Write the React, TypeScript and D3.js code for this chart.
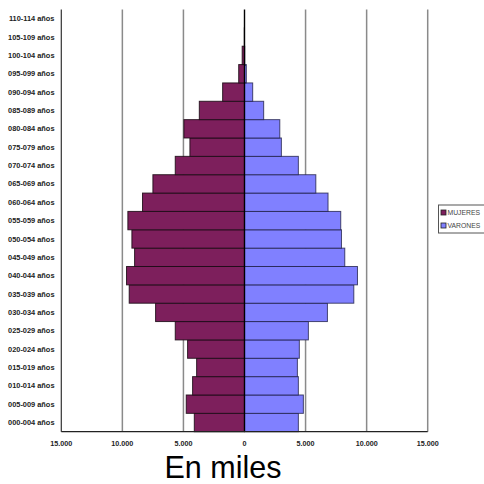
import React from "react";
import * as d3 from "d3";

// Age groups, youngest first
const ageGroups = [
  "000-004 años", "005-009 años", "010-014 años", "015-019 años", "020-024 años",
  "025-029 años", "030-034 años", "035-039 años", "040-044 años", "045-049 años",
  "050-054 años", "055-059 años", "060-064 años", "065-069 años", "070-074 años",
  "075-079 años", "080-084 años", "085-089 años", "090-094 años", "095-099 años",
  "100-104 años", "105-109 años", "110-114 años",
];

// Population in thousands
const mujeres = [
  4110, 4770, 4250, 3920, 4660, 5670, 7280, 9440, 9660, 9000,
  9220, 9550, 8350, 7500, 5670, 4470, 4960, 3700, 1790, 475,
  190, 15, 0,
];
const varones = [
  4410, 4820, 4410, 4330, 4490, 5230, 6790, 8950, 9250, 8210,
  7940, 7880, 6840, 5840, 4410, 3020, 2890, 1570, 670, 150,
  20, 0, 0,
];

const xTicks = [-15000, -10000, -5000, 0, 5000, 10000, 15000];
const legendItems = ["MUJERES", "VARONES"];

const COLOR_M = "#7d1f5c";
const COLOR_V = "#8080ff";

const fmt = (v: number) =>
  d3.format(",")(Math.abs(v)).replace(/,/g, ".");

export default function App() {
  const W = 484;
  const H = 484;
  const x = d3.scaleLinear().domain([-15000, 15000]).range([61.3, 427.7]);
  const y = d3
    .scaleBand<string>()
    .domain([...ageGroups].reverse())
    .range([9.5, 431.7])
    .padding(0);
  const bw = y.bandwidth();
  const top = y.range()[0];
  const bottom = y.range()[1];
  const labelFont = "'Liberation Sans', Arial, sans-serif";

  return (
    <svg
      width={W}
      height={H}
      style={{ position: "absolute", left: 0, top: 0, background: "#fff" }}
    >
      {/* vertical gridlines */}
      {xTicks
        .filter((t) => t !== 0 && t !== -15000)
        .map((t) => (
          <line
            key={"g" + t}
            x1={x(t)}
            x2={x(t)}
            y1={top}
            y2={bottom}
            stroke="#8a8a8a"
            strokeWidth={1.5}
          />
        ))}
      <line x1={x(-15000)} x2={x(-15000)} y1={top} y2={bottom} stroke="#333" strokeWidth={1.2} />

      {/* bars */}
      {ageGroups.map((g, i) => (
        <g key={g}>
          {mujeres[i] > 0 && (
            <rect
              x={x(-mujeres[i])}
              y={y(g)}
              width={x(0) - x(-mujeres[i])}
              height={bw}
              fill={COLOR_M}
              stroke="#1a0a14"
              strokeOpacity={0.85}
              strokeWidth={1}
            />
          )}
          {varones[i] > 0 && (
            <rect
              x={x(0)}
              y={y(g)}
              width={x(varones[i]) - x(0)}
              height={bw}
              fill={COLOR_V}
              stroke="#1a1a40"
              strokeOpacity={0.75}
              strokeWidth={1}
            />
          )}
        </g>
      ))}

      {/* zero line and bottom axis */}
      <line x1={x(0)} x2={x(0)} y1={top} y2={bottom} stroke="#000" strokeWidth={1.4} />
      <line x1={x(-15000)} x2={x(15000)} y1={bottom} y2={bottom} stroke="#222" strokeWidth={1.2} />

      {/* category labels */}
      {ageGroups.map((g) => (
        <text
          key={"l" + g}
          x={54.5}
          y={(y(g) as number) + bw / 2}
          dy="0.35em"
          textAnchor="end"
          fontFamily={labelFont}
          fontWeight="bold"
          fontSize={7.4}
          fill="#222"
        >
          {g}
        </text>
      ))}

      {/* tick labels */}
      {xTicks.map((t) => (
        <text
          key={"t" + t}
          x={x(t)}
          y={445.5}
          textAnchor="middle"
          fontFamily={labelFont}
          fontWeight="bold"
          fontSize={7.2}
          fill="#222"
        >
          {fmt(t)}
        </text>
      ))}

      {/* legend */}
      <rect x={438.5} y={205} width={50} height={28} fill="#fff" stroke="#555" strokeWidth={1} />
      {legendItems.map((name, i) => (
        <g key={name} transform={`translate(441, ${210 + i * 13})`}>
          <rect
            width={5}
            height={5}
            fill={i === 0 ? COLOR_M : COLOR_V}
            stroke="#222"
            strokeWidth={0.8}
          />
          <text
            x={6.5}
            y={2.6}
            dy="0.35em"
            fontFamily={labelFont}
            fontSize={6.8}
            fill="#444"
          >
            {name}
          </text>
        </g>
      ))}

      {/* unit caption */}
      <text
        x={223}
        y={477.5}
        textAnchor="middle"
        fontFamily={labelFont}
        fontSize={30.5}
        fill="#000"
      >
        En miles
      </text>
    </svg>
  );
}
